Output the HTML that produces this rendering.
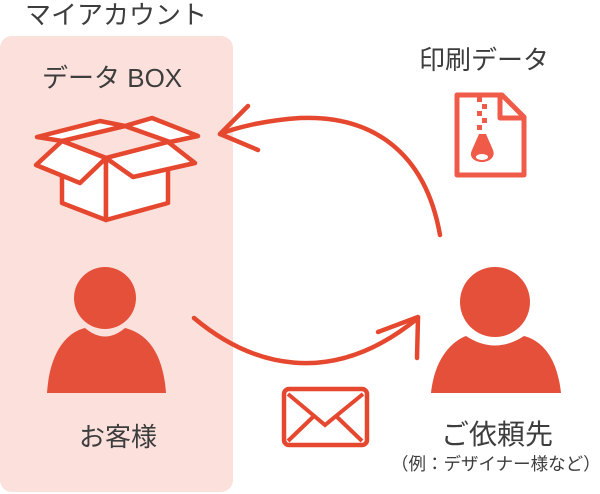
<!DOCTYPE html>
<html><head><meta charset="utf-8"><style>
body{margin:0;width:600px;height:494px;background:#fff;position:relative;overflow:hidden;font-family:"Liberation Sans","Noto Sans CJK JP",sans-serif;color:#3d3d3d}
.t{position:absolute;white-space:nowrap;line-height:1}
</style></head><body>
<div style="position:absolute;left:0;top:36px;width:233px;height:456px;background:#fbe0dc;border-radius:12px"></div>
<div class="t" style="left:25px;top:2px;font-size:26px">マイアカウント</div>
<div class="t" style="left:42px;top:65px;font-size:26px">データ BOX</div>
<div class="t" style="left:419px;top:47px;font-size:26px">印刷データ</div>
<div class="t" style="left:79px;top:424px;font-size:26px">お客様</div>
<div class="t" style="left:441px;top:421px;font-size:28px">ご依頼先</div>
<div class="t" style="left:391px;top:456px;font-size:17.5px">（例：デザイナー様など）</div>
<svg width="600" height="494" style="position:absolute;left:0;top:0">
<g fill="#fff" stroke="#e5482f" stroke-width="4.5" stroke-linejoin="round" stroke-linecap="round">
<path d="M62 141 L62 203 L106 220 L106 158 Z"/>
<path d="M106 158 L106 220 L168 203 L168 142 Z"/>
<path d="M62 141 L37 137 L100 121 L125 126 Z"/>
<path d="M125 126 L152 118 L198 136 L170 142 Z"/>
<path d="M62 141 L36 165 L80 183 L106 158 Z"/>
<path d="M106 158 L133 177 L195 163 L168 142 Z"/>
</g>
<g fill="none" stroke="#e5482f" stroke-width="4.5" stroke-linecap="round" stroke-linejoin="round">
<path d="M440 235 C425 150 370 115 300 118 C270 120 240 126 220 134"/>
<path d="M248 106 L220 134 L258 150"/>
<path d="M194 318 C250 365 330 390 418 318"/>
<path d="M378 332 L418 317 L417 358"/>
</g>
<rect x="284" y="389" width="83" height="56" rx="5" fill="none" stroke="#e5482f" stroke-width="4.5"/>
<path d="M288 394 L325 425 L363 394 M288 441 L314 416 M362 441 L336 416" fill="none" stroke="#e5482f" stroke-width="4"/>
<g fill="#e5503a">
<circle cx="105" cy="298" r="31"/>
<path d="M47 393 C50 350 68 332 85 328 Q105 345 125 328 C145 333 163 350 166 393 Z"/>
<circle cx="495" cy="302" r="35"/>
<path d="M431 393 C435 355 455 340 466 336 Q495 355 524 336 C540 340 557 355 561 393 Z"/>
</g>
<g stroke="#f05a48" fill="none" stroke-width="5" stroke-linejoin="round">
<path d="M457 95 L502 95 L524 117 L524 175 L457 175 Z"/>
<path d="M500 96 L500 118 L522 118"/>
</g>
<g fill="#f05a48">
<rect x="477" y="97" width="5" height="5"/><rect x="482" y="104" width="5" height="5"/>
<rect x="477" y="111" width="5" height="5"/><rect x="482" y="118" width="5" height="5"/>
<rect x="477" y="125" width="5" height="5"/>
<path d="M479 134 L486 134 L493 150 C496 158 488 162 482 162 C476 162 468 158 472 150 Z"/>
</g>
<ellipse cx="482" cy="157" rx="6" ry="3" fill="#fff"/>
</svg>
</body></html>
